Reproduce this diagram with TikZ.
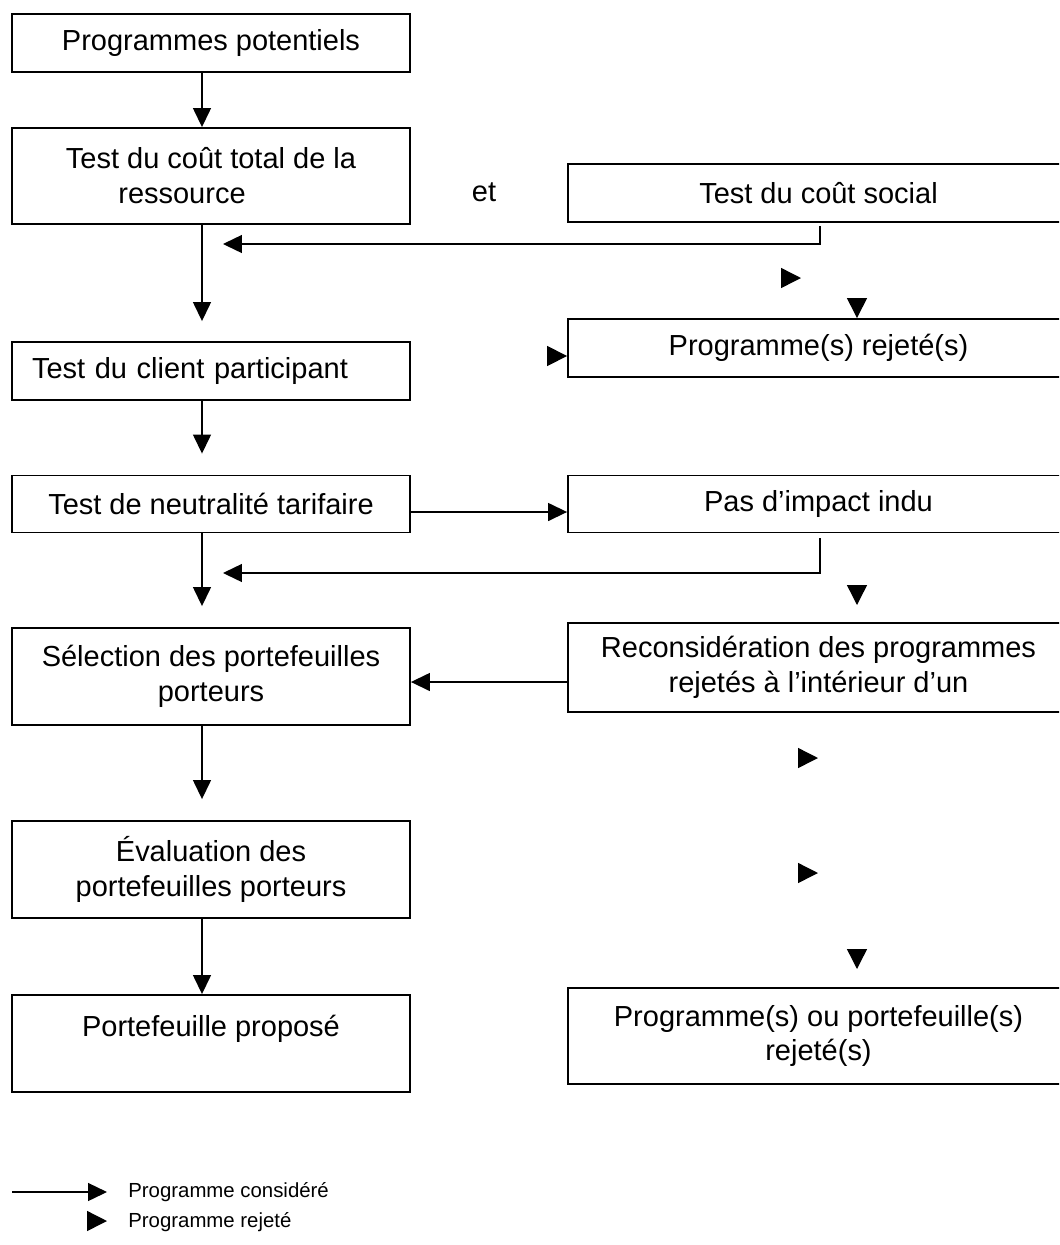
\documentclass[tikz,border=0pt]{standalone}
\usepackage{fontspec}
\setmainfont{Liberation Sans}
\usetikzlibrary{arrows.meta,calc}

\begin{document}
\begin{tikzpicture}[x=0.02cm, y=-0.02cm, font=\fontsize{16.5}{19.9}\selectfont,
    lbox/.style={draw, line width=1.1pt, minimum width=7.96cm, inner sep=0pt, align=center},
    rbox/.style={draw, line width=1.1pt, minimum width=10.02cm, inner sep=0pt, align=center},
    cons/.style={-{Triangle[length=0.38cm, width=0.36cm]}, line width=0.8pt},
    rej/.style={-{Triangle[length=0.4cm, width=0.4cm]}, line width=0.8pt},
    legend/.style={anchor=west, inner sep=0pt, font=\fontsize{11.6}{13}\selectfont}]
    \useasboundingbox (0, 0) rectangle (1059, 1245);
    \clip (0, 0) rectangle (1059, 1245);

    % colonne de gauche
    \node[lbox, minimum height=1.16cm] (b1) at (211, 43) {Programmes potentiels};
    \node[lbox, minimum height=1.92cm] (b2) at (211, 176) {Test du coût total de la\\ressource\hspace*{2em}};
    \node[lbox, minimum height=1.16cm, align=left, text width=7.16cm, inner xsep=0.4cm] (b3) at (211, 371) {Test du client participant};
    \node[lbox, minimum height=1.14cm] (b4) at (211, 504) {Test de neutralité tarifaire};
    \node[lbox, minimum height=1.94cm] (b5) at (211, 676.5) {Sélection des portefeuilles\\porteurs};
    \node[lbox, minimum height=1.94cm] (b6) at (211, 869.5) {Évaluation des\\portefeuilles porteurs};
    \node[lbox, minimum height=1.94cm] (b7) at (211, 1043.5) {Portefeuille proposé\\~};

    % colonne de droite
    \node[rbox, minimum height=1.16cm] (rA) at (818.5, 193) {Test du coût social};
    \node[rbox, minimum height=1.16cm] (rB) at (818.5, 348) {Programme(s) rejeté(s)};
    \node[rbox, minimum height=1.14cm] (rC) at (818.5, 504) {Pas d’impact indu};
    \node[rbox, minimum height=1.78cm] (rD) at (818.5, 667.5) {Reconsidération des programmes\\rejetés à l’intérieur d’un};
    \node[rbox, minimum height=1.92cm] (rE) at (818.5, 1036) {Programme(s) ou portefeuille(s)\\rejeté(s)};

    \node (et) at (484, 192) {et};

    % programmes considérés
    \coordinate (spine) at (202, 0);
    \draw[cons] (b1.south -| spine) -- (b2.north -| spine);
    \draw[cons, shorten >=0.4cm] (b2.south -| spine) -- (b3.north -| spine);
    \draw[cons, shorten >=0.42cm] (b3.south -| spine) -- (b4.north -| spine);
    \draw[cons, shorten >=0.42cm] (b4.south -| spine) -- (b5.north -| spine);
    \draw[cons, shorten >=0.42cm] (b5.south -| spine) -- (b6.north -| spine);
    \draw[cons] (b6.south -| spine) -- (b7.north -| spine);

    \coordinate (retA) at (223, 244);
    \coordinate (retC) at (223, 573);
    \draw[cons] ($(rA.south -| 820, 0)+(0, 3)$) |- (retA);
    \draw[cons] ($(rC.south -| 820, 0)+(0, 5)$) |- (retC);
    \draw[cons] (b4.east |- 0, 512) -- (rC.west |- 0, 512);
    \draw[cons] (rD.west |- 0, 682) -- (b5.east |- 0, 682);

    % programmes rejetés
    \coordinate (r1) at (801, 278);
    \coordinate (r2) at (rB.north -| 857, 0);
    \coordinate (r3) at (rB.west |- 0, 356);
    \coordinate (r4) at (857, 605);
    \coordinate (r5) at (818, 758);
    \coordinate (r6) at (818, 873);
    \coordinate (r7) at (857, 969);
    \draw[rej] ($(r1)+(-20, 0)$) -- (r1);
    \draw[rej] ($(r2)+(0, -20)$) -- (r2);
    \draw[rej] ($(r3)+(-20, 0)$) -- (r3);
    \draw[rej] ($(r4)+(0, -20)$) -- (r4);
    \draw[rej] ($(r5)+(-20, 0)$) -- (r5);
    \draw[rej] ($(r6)+(-20, 0)$) -- (r6);
    \draw[rej] ($(r7)+(0, -20)$) -- (r7);

    % légende
    \coordinate (lg1) at (12, 1192);
    \coordinate (lg2) at (107, 1192);
    \draw[cons] (lg1) -- (lg2);
    \node[legend] (lgc) at (128, 1192) {Programme considéré};
    \coordinate (lg3) at (107, 1221);
    \draw[rej] ($(lg3)+(-20, 0)$) -- (lg3);
    \node[legend] (lgr) at (128, 1222) {Programme rejeté};
\end{tikzpicture}
\end{document}
